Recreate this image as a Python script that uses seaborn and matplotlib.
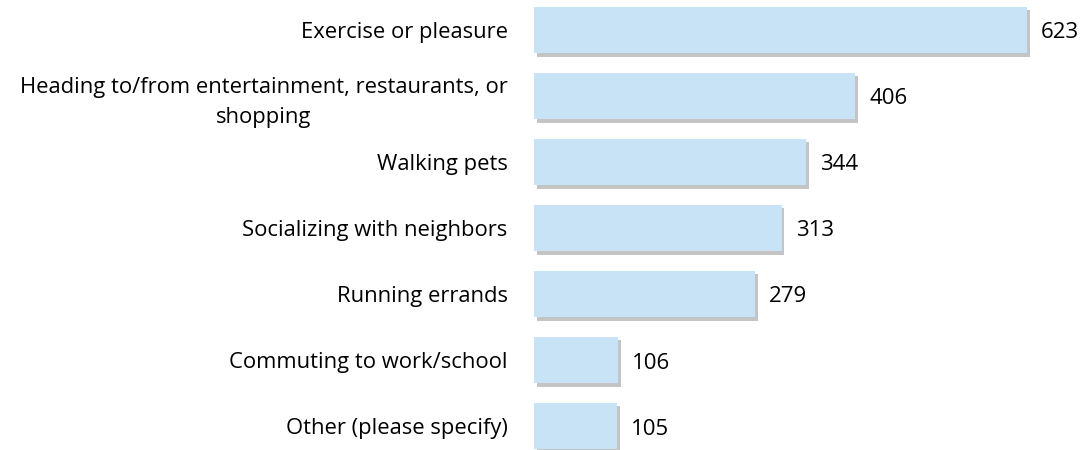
import matplotlib
matplotlib.use("Agg")
import matplotlib.pyplot as plt
import matplotlib.patheffects as pe
import seaborn as sns
import pandas as pd

categories = [
    "Exercise or pleasure",
    "Heading to/from entertainment, restaurants, or\nshopping",
    "Walking pets",
    "Socializing with neighbors",
    "Running errands",
    "Commuting to work/school",
    "Other (please specify)",
]
values = [623, 406, 344, 313, 279, 106, 105]

sns.set_theme(style="white")
plt.rcParams["font.family"] = ["Open Sans", "DejaVu Sans"]

df = pd.DataFrame({"cat": categories, "val": values})

fig = plt.figure(figsize=(10.83, 4.5), dpi=100)
ax = fig.add_axes([534 / 1083, 0, (1083 - 534) / 1083, 1])

sns.barplot(data=df, x="val", y="cat", orient="h", color="#c8e3f5",
            saturation=1, width=0.71, ax=ax)

for p in ax.patches:
    p.set_edgecolor("none")
    p.set_path_effects([
        pe.SimplePatchShadow(offset=(2, -2.5), shadow_rgbFace="#8a8a8a", alpha=0.5),
        pe.Normal(),
    ])

scale = 493 / 623
ax.set_xlim(0, 549 / scale)
ax.set_ylim(6 + 24 / 66, -30 / 66)

for i, v in enumerate(values):
    ax.text(v + 14 / scale, i + 3 / 66, str(v), va="center", ha="left",
            fontsize=16, color="#000000")

ax.set_xlabel("")
ax.set_ylabel("")
ax.set_xticks([])
ax.tick_params(axis="y", length=0, pad=19, labelsize=15.8)
for lab in ax.get_yticklabels():
    lab.set_multialignment("center")
    lab.set_linespacing(1.55)
    lab.set_color("#000000")
sns.despine(ax=ax, left=True, bottom=True, top=True, right=True)

fig.savefig("out.png", dpi=100)
